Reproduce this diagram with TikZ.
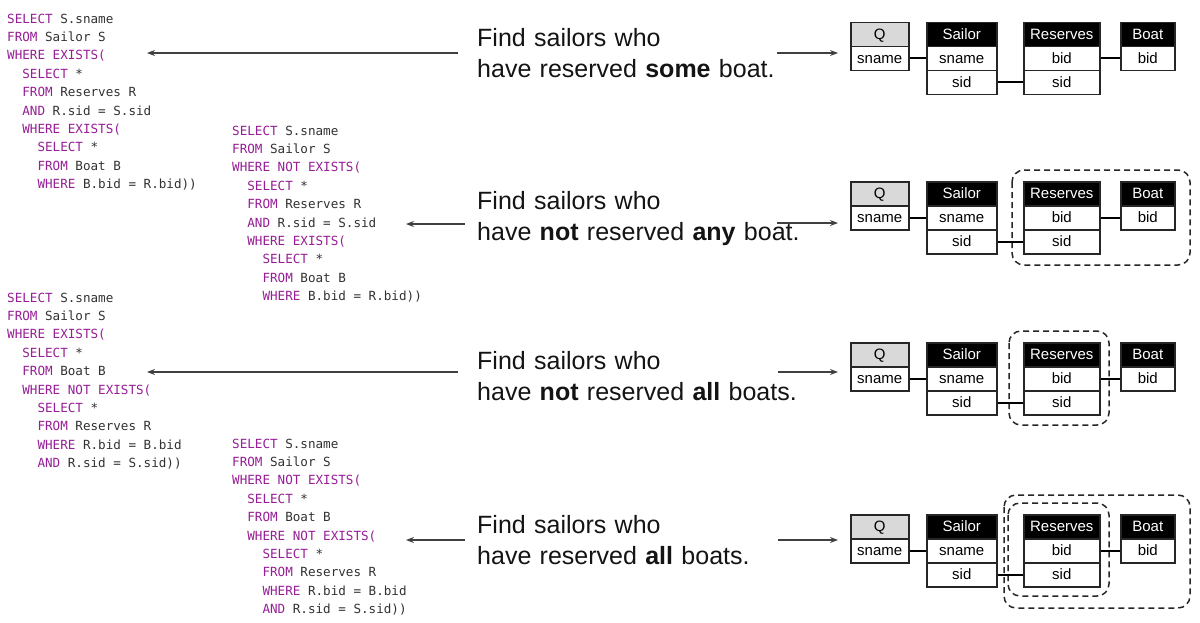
\documentclass[tikz,border=0pt]{standalone}
\usepackage{fontspec}
\setmainfont{Liberation Sans}
\newfontfamily\codefont{DejaVu Sans Mono}
\usetikzlibrary{arrows.meta}
\definecolor{kwc}{RGB}{150,30,150}
\definecolor{idc}{RGB}{50,50,50}
\newcommand\kw[1]{\textcolor{kwc}{#1}}
\newcommand\ii{\phantom{xx}}
\newcommand\msp{\spaceskip=0.602em\relax\xspaceskip=0.602em\relax}
\begin{document}
\begin{tikzpicture}[x=1pt,y=-1pt,
 code/.style={anchor=base west, inner sep=0pt, text width=300pt, align=left, font=\codefont\fontsize{12.6}{18.4}\selectfont, text=idc},
 stmt/.style={anchor=base west, inner sep=0pt, text width=360pt, align=left, font=\fontsize{25}{31}\selectfont, text=black!92},
 arr/.style={draw=black!75, line width=1.1pt, -{Stealth[length=8pt,width=6pt]}},
 cell/.style={draw=black!85, line width=1.5pt, fill=white, anchor=north west, inner sep=0pt, minimum height=24pt, text height=10pt, text depth=0.5pt, font=\fontsize{15}{18}\selectfont, text=black},
 hcell/.style={cell, fill=black, text=white},
 qcell/.style={cell, fill=black!15},
 link/.style={draw=black, line width=1.6pt},
 dbox/.style={draw=black!85, line width=1.5pt, dash pattern=on 6pt off 4pt, rounded corners=12pt}]
\fill[white] (0,0) rectangle (1200,622);
\useasboundingbox (0,0) rectangle (1200,622);

% SQL code blocks
\node[code] (c1) at (7,23) {\msp\kw{SELECT} S.sname\\
\kw{FROM} Sailor S\\
\kw{WHERE EXISTS(}\\
\ii\kw{SELECT} *\\
\ii\kw{FROM} Reserves R\\
\ii\kw{AND} R.sid = S.sid\\
\ii\kw{WHERE EXISTS(}\\
\ii\ii\kw{SELECT} *\\
\ii\ii\kw{FROM} Boat B\\
\ii\ii\kw{WHERE} B.bid = R.bid))};

\node[code] (c2) at (232,135) {\msp\kw{SELECT} S.sname\\
\kw{FROM} Sailor S\\
\kw{WHERE NOT EXISTS(}\\
\ii\kw{SELECT} *\\
\ii\kw{FROM} Reserves R\\
\ii\kw{AND} R.sid = S.sid\\
\ii\kw{WHERE EXISTS(}\\
\ii\ii\kw{SELECT} *\\
\ii\ii\kw{FROM} Boat B\\
\ii\ii\kw{WHERE} B.bid = R.bid))};

\node[code] (c3) at (7,302) {\msp\kw{SELECT} S.sname\\
\kw{FROM} Sailor S\\
\kw{WHERE EXISTS(}\\
\ii\kw{SELECT} *\\
\ii\kw{FROM} Boat B\\
\ii\kw{WHERE NOT EXISTS(}\\
\ii\ii\kw{SELECT} *\\
\ii\ii\kw{FROM} Reserves R\\
\ii\ii\kw{WHERE} R.bid = B.bid\\
\ii\ii\kw{AND} R.sid = S.sid))};

\node[code] (c4) at (232,448) {\msp\kw{SELECT} S.sname\\
\kw{FROM} Sailor S\\
\kw{WHERE NOT EXISTS(}\\
\ii\kw{SELECT} *\\
\ii\kw{FROM} Boat B\\
\ii\kw{WHERE NOT EXISTS(}\\
\ii\ii\kw{SELECT} *\\
\ii\ii\kw{FROM} Reserves R\\
\ii\ii\kw{WHERE} R.bid = B.bid\\
\ii\ii\kw{AND} R.sid = S.sid))};

% statements
\node[stmt] (s1) at (477,46.5) {Find sailors who\\have reserved \textbf{some} boat.};
\node[stmt] (s2) at (477,209.5) {Find sailors who\\have \textbf{not} reserved \textbf{any} boat.};
\node[stmt] (s3) at (477,369.5) {Find sailors who\\have \textbf{not} reserved \textbf{all} boats.};
\node[stmt] (s4) at (477,533.5) {Find sailors who\\have reserved \textbf{all} boats.};

% dashed groups
\draw[dbox] (1012,170) rectangle (1190,265);
\draw[dbox] (1009,331) rectangle (1109,425);
\draw[dbox] (1004,495) rectangle (1190,608);
\draw[dbox] (1008,503) rectangle (1109,596);

% schema tables
\foreach \r/\t in {1/21.5, 2/181, 3/342, 4/514}{
  \node[qcell, minimum width=58pt] (Qh\r) at (850,\t) {Q};
  \node[cell, minimum width=58pt] (Qs\r) at (850,\t+24) {sname};
  \node[hcell, minimum width=70pt] (Sh\r) at (926,\t) {Sailor};
  \node[cell, minimum width=70pt] (Ss\r) at (926,\t+24) {sname};
  \node[cell, minimum width=70pt] (Si\r) at (926,\t+48) {sid};
  \node[hcell, minimum width=76pt] (Rh\r) at (1023,\t) {Reserves};
  \node[cell, minimum width=76pt] (Rb\r) at (1023,\t+24) {bid};
  \node[cell, minimum width=76pt] (Ri\r) at (1023,\t+48) {sid};
  \node[hcell, minimum width=54pt] (Bh\r) at (1120,\t) {Boat};
  \node[cell, minimum width=54pt] (Bb\r) at (1120,\t+24) {bid};
  \draw[link] (Qs\r.east) -- (Ss\r.west);
  \draw[link] (Si\r.east) -- (Ri\r.west);
  \draw[link] (Rb\r.east) -- (Bb\r.west);
}

% arrows
\coordinate (l1s) at (458,53);  \coordinate (l1e) at (147,53);
\coordinate (r1s) at (777,53);  \coordinate (r1e) at (838,53);
\coordinate (l2s) at (465,224); \coordinate (l2e) at (406,224);
\coordinate (r2s) at (777,223); \coordinate (r2e) at (838,223);
\coordinate (l3s) at (458,372); \coordinate (l3e) at (147,372);
\coordinate (r3s) at (778,372); \coordinate (r3e) at (838,372);
\coordinate (l4s) at (465,540); \coordinate (l4e) at (406,540);
\coordinate (r4s) at (778,540); \coordinate (r4e) at (838,540);
\foreach \i in {1,2,3,4}{
  \draw[arr] (l\i s) -- (l\i e);
  \draw[arr] (r\i s) -- (r\i e);
}
\end{tikzpicture}
\end{document}
